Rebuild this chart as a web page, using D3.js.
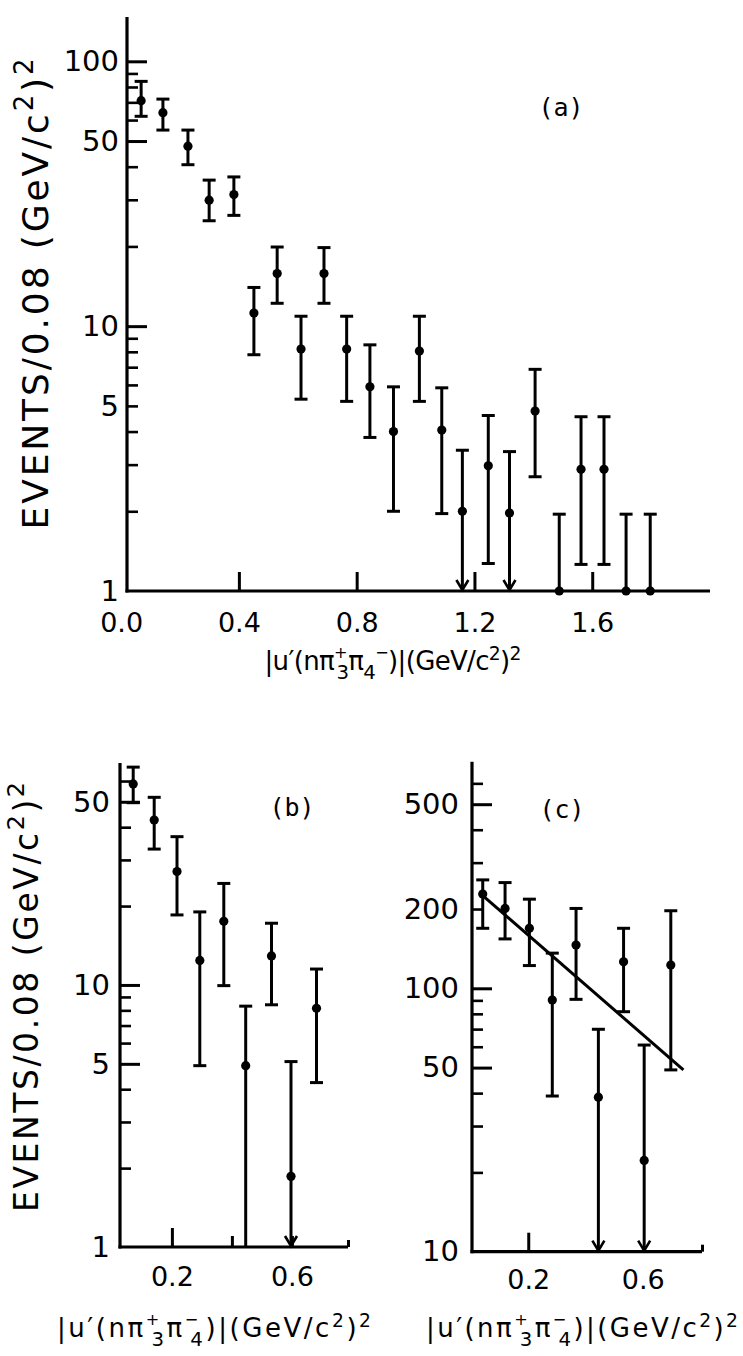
<!DOCTYPE html>
<html>
<head>
<meta charset="utf-8">
<script src="https://cdn.jsdelivr.net/npm/d3@7"></script>
<style>
  body { margin: 0; background: #fff; }
  svg text { fill: #000; }
</style>
</head>
<body>
<div id="chart"></div>
<script>
// ---- panel (a) : events per 0.08 (GeV/c^2)^2 ----
var aX  = [0.068, 0.142, 0.227, 0.299, 0.383, 0.451, 0.530, 0.611, 0.689, 0.766, 0.845, 0.925,
           1.013, 1.089, 1.159, 1.247, 1.319, 1.406, 1.488, 1.562, 1.640, 1.715, 1.797];
var aY  = [71, 64, 47.8, 29.9, 31.4, 11.2, 15.8, 8.2, 15.8, 8.2, 5.9, 4.0,
           8.05, 4.05, 2.0, 2.97, 1.97, 4.78, 1, 2.88, 2.88, 1, 1];
var aHi = [84, 72, 55, 35.6, 36.6, 14, 19.9, 10.9, 19.8, 10.9, 8.5, 5.9,
           10.9, 5.85, 3.4, 4.6, 3.36, 6.87, 1.95, 4.55, 4.55, 1.95, 1.95];
var aLo = [62, 55, 40.7, 25, 26.2, 7.8, 12.2, 5.3, 12.2, 5.2, 3.8, 2.0,
           5.2, 1.96, 0, 1.27, 0, 2.7, 0, 1.26, 1.26, 0, 0];
var aArrow = [0,0,0,0,0,0,0,0,0,0,0,0,0,0,1,0,1,0,0,0,0,0,0];

// ---- panel (b) ----
var bX  = [0.071, 0.141, 0.217, 0.293, 0.373, 0.446, 0.532, 0.597, 0.682];
var bY  = [58.5, 42.6, 27.1, 12.4, 17.5, 4.92, 12.9, 1.86, 8.15];
var bHi = [67.8, 52, 36.8, 19, 24.4, 8.3, 17.2, 5.1, 11.5];
var bLo = [49.6, 33, 18.5, 4.92, 9.94, 0, 8.4, 0, 4.24];
var bArrow = [0,0,0,0,0,0,0,1,0];

// ---- panel (c) ----
var cX  = [0.041, 0.119, 0.204, 0.284, 0.367, 0.445, 0.533, 0.605, 0.698];
var cY  = [228, 201, 169, 90.3, 146, 38.6, 126, 22.2, 122.5];
var cHi = [258, 252, 218, 136, 201, 69.9, 169, 60.9, 197];
var cLo = [169, 154, 122, 39, 90.8, 0, 81.5, 0, 49];
var cArrow = [0,0,0,0,0,1,0,1,0];
var cFitX = [0.031, 0.742];
var cFitY = [230, 49];

// tick values
var aYLabels = [1, 5, 10, 50, 100];
var aYMajor  = [10, 50, 100];
var aYMinor  = [2, 3, 4, 5, 6, 7, 8, 9, 20, 30, 40, 60, 70, 80, 90];
var aXLabels = [0, 0.4, 0.8, 1.2, 1.6];
var aXMajor  = [0.4, 0.8, 1.2, 1.6];

var bYLabels = [1, 5, 10, 50];
var bYMajor  = [5, 10, 50];
var bYMinor  = [2, 3, 4, 6, 7, 8, 9, 20, 30, 40, 60];
var bXLabels = [0.2, 0.6];
var bXMajor  = [0.2];
var bXMinor  = [0.4, 0.6];

var cYLabels = [10, 50, 100, 200, 500];
var cYMajor  = [50, 100, 500];
var cYMinor  = [20, 30, 40, 60, 70, 80, 90, 200, 300, 400, 600];
var cXLabels = [0.2, 0.6];
var cXMajor  = [0.2];

var W = 743, H = 1356;
var svg = d3.select("#chart").append("svg")
    .attr("width", W).attr("height", H)
    .style("background", "#fff");

function tickGroup(g, axis, tx, ty, width)
{
    var t = g.append("g")
        .attr("transform", "translate(" + tx + "," + ty + ")")
        .attr("color", "#000")
        .call(axis);
    t.select(".domain").remove();
    t.selectAll("line").attr("stroke-width", width || 3);
    return t;
}

function labelGroup(g, axis, tx, ty, size)
{
    var t = g.append("g")
        .attr("transform", "translate(" + tx + "," + ty + ")")
        .call(axis);
    t.select(".domain").remove();
    t.selectAll("line").remove();
    t.attr("font-family", "'DejaVu Sans', sans-serif")
     .attr("font-size", size);
    return t;
}

function drawPanel(p)
{
    var g = svg.append("g");
    var x0 = p.x.range()[0], x1 = p.x.range()[1];
    var yb = p.y.range()[0], yt = p.y.range()[1];

    // axis lines
    g.append("line")
        .attr("x1", x0).attr("x2", x0)
        .attr("y1", yb + 1.5).attr("y2", yt)
        .attr("stroke", "#000").attr("stroke-width", 3.2);
    g.append("line")
        .attr("x1", x0 - 1.5).attr("x2", x1)
        .attr("y1", yb).attr("y2", yb)
        .attr("stroke", "#000").attr("stroke-width", 3.2);

    // y ticks (pointing inward, to the right)
    tickGroup(g, d3.axisRight(p.y).tickValues(p.yMajor).tickSize(20).tickFormat(""), x0, 0);
    tickGroup(g, d3.axisRight(p.y).tickValues(p.yMinor).tickSize(11).tickFormat(""), x0, 0, 2.6);

    // x ticks (pointing up)
    tickGroup(g, d3.axisTop(p.x).tickValues(p.xMajor).tickSize(19).tickFormat(""), 0, yb);
    if (p.xMinor)
        tickGroup(g, d3.axisTop(p.x).tickValues(p.xMinor).tickSize(11).tickFormat(""), 0, yb);
    if (p.xEnd)
        tickGroup(g, d3.axisTop(p.x).tickValues([p.x.domain()[1]]).tickSize(7).tickFormat(""), 0, yb);

    // tick labels
    labelGroup(g, d3.axisLeft(p.y).tickValues(p.yLabels).tickSize(0)
        .tickPadding(p.yPad).tickFormat(d3.format("d")), x0, 0, p.yFont);
    labelGroup(g, d3.axisBottom(p.x).tickValues(p.xLabels).tickSize(0)
        .tickPadding(p.xPad).tickFormat(d3.format(".1f")), 0, yb, p.xFont);

    // error bars and points
    var pts = p.xs.map(function(d, i) {
        return { x: d, y: p.ys[i], hi: p.hi[i], lo: p.lo[i], arrow: p.arrow[i] };
    });

    var bars = g.selectAll("g.pt").data(pts).enter().append("g").attr("class", "pt");

    bars.append("line")
        .attr("x1", function(d) { return p.x(d.x); })
        .attr("x2", function(d) { return p.x(d.x); })
        .attr("y1", function(d) { return p.y(d.hi); })
        .attr("y2", function(d) { return d.lo > 0 ? p.y(d.lo) : yb; })
        .attr("stroke", "#000").attr("stroke-width", 3);

    bars.append("line")
        .attr("x1", function(d) { return p.x(d.x) - 6.5; })
        .attr("x2", function(d) { return p.x(d.x) + 6.5; })
        .attr("y1", function(d) { return p.y(d.hi); })
        .attr("y2", function(d) { return p.y(d.hi); })
        .attr("stroke", "#000").attr("stroke-width", 3);

    bars.filter(function(d) { return d.lo > 0; })
        .append("line")
        .attr("x1", function(d) { return p.x(d.x) - 6.5; })
        .attr("x2", function(d) { return p.x(d.x) + 6.5; })
        .attr("y1", function(d) { return p.y(d.lo); })
        .attr("y2", function(d) { return p.y(d.lo); })
        .attr("stroke", "#000").attr("stroke-width", 3);

    bars.filter(function(d) { return d.arrow; })
        .append("path")
        .attr("d", function(d) {
            var cx = p.x(d.x);
            return "M" + (cx - 6) + "," + (yb - 11) + "L" + cx + "," + (yb - 1) + "L" + (cx + 6) + "," + (yb - 11);
        })
        .attr("fill", "none").attr("stroke", "#000").attr("stroke-width", 2.6);

    bars.append("circle")
        .attr("cx", function(d) { return p.x(d.x); })
        .attr("cy", function(d) { return p.y(d.y); })
        .attr("r", 4.6)
        .attr("fill", "#000");

    // panel tag
    g.append("text")
        .attr("x", p.tag[1]).attr("y", p.tag[2])
        .attr("text-anchor", "middle")
        .attr("font-family", "'DejaVu Sans Mono', 'Liberation Mono', monospace")
        .attr("font-size", 25)
        .text(p.tag[0]);

    return g;
}

function yTitle(bx, cy, size, len)
{
    var t = svg.append("text")
        .attr("transform", "translate(" + bx + "," + cy + ") rotate(-90)")
        .attr("text-anchor", "middle")
        .attr("font-family", "'DejaVu Sans', sans-serif")
        .attr("font-size", size)
        .attr("textLength", len)
        .attr("lengthAdjust", "spacing");
    var s = size * 0.72, up = size * 0.42;
    t.append("tspan").text("EVENTS/0.08 (GeV/c");
    t.append("tspan").attr("font-size", s).attr("dy", -up).text("2");
    t.append("tspan").attr("dy", up).text(")");
    t.append("tspan").attr("font-size", s).attr("dy", -up).text("2");
}

function xTitle(cx, by, size, len, stacked)
{
    var t = svg.append("text")
        .attr("x", cx).attr("y", by)
        .attr("text-anchor", "middle")
        .attr("font-family", "'DejaVu Sans', sans-serif")
        .attr("font-size", size)
        .attr("textLength", len)
        .attr("lengthAdjust", "spacing");
    var s = size * 0.62, up = size * 0.45, dn = size * 0.36, back = size * 0.4;
    t.append("tspan").text("|u\u2032(n\u03c0");
    t.append("tspan").attr("font-size", s).attr("dy", -up).text("+");
    t.append("tspan").attr("font-size", size * 0.76).attr("dx", -back).attr("dy", up + dn).text("3");
    t.append("tspan").attr("dy", -dn).text("\u03c0");
    if (stacked) {
        t.append("tspan").attr("font-size", s).attr("dy", -up).text("\u2212");
        t.append("tspan").attr("font-size", size * 0.76).attr("dx", -back).attr("dy", up + dn).text("4");
        t.append("tspan").attr("dy", -dn).text(")|(GeV/c");
    } else {
        t.append("tspan").attr("font-size", size * 0.76).attr("dy", dn).text("4");
        t.append("tspan").attr("font-size", s).attr("dy", -dn - up).text("\u2212");
        t.append("tspan").attr("dy", up).text(")|(GeV/c");
    }
    t.append("tspan").attr("font-size", size * 0.72).attr("dy", -size * 0.4).text("2");
    t.append("tspan").attr("dy", size * 0.4).text(")");
    t.append("tspan").attr("font-size", size * 0.72).attr("dy", -size * 0.4).text("2");
}

// panel (a)
drawPanel({
    x: d3.scaleLinear().domain([0.02, 2.0]).range([127, 710]),
    y: d3.scaleLog().domain([1, 147]).range([591, 17]),
    xs: aX, ys: aY, hi: aHi, lo: aLo, arrow: aArrow,
    yLabels: aYLabels, yMajor: aYMajor, yMinor: aYMinor,
    xLabels: aXLabels, xMajor: aXMajor,
    yPad: 8, yFont: 29, xPad: 22, xFont: 27,
    tag: ["(a)", 561, 116]
});

// panel (b)
drawPanel({
    x: d3.scaleLinear().domain([0.027, 0.787]).range([120, 348]),
    y: d3.scaleLog().domain([1, 70.3]).range([1247, 763]),
    xs: bX, ys: bY, hi: bHi, lo: bLo, arrow: bArrow,
    yLabels: bYLabels, yMajor: bYMajor, yMinor: bYMinor,
    xLabels: bXLabels, xMajor: bXMajor, xMinor: bXMinor, xEnd: true,
    yPad: 10, yFont: 29, xPad: 20, xFont: 27,
    tag: ["(b)", 292, 816]
});

// panel (c)
var cxs = d3.scaleLinear().domain([0.0035, 0.807]).range([472, 702]);
var cys = d3.scaleLog().domain([10, 725]).range([1251.7, 761.7]);
var pc = drawPanel({
    x: cxs,
    y: cys,
    xs: cX, ys: cY, hi: cHi, lo: cLo, arrow: cArrow,
    yLabels: cYLabels, yMajor: cYMajor, yMinor: cYMinor,
    xLabels: cXLabels, xMajor: cXMajor, xEnd: true,
    yPad: 13, yFont: 29, xPad: 18, xFont: 27,
    tag: ["(c)", 562, 818]
});

// exponential fit line in (c)
pc.append("path")
    .datum(cFitX.map(function(d, i) { return { x: d, y: cFitY[i] }; }))
    .attr("d", d3.line().x(function(d) { return cxs(d.x); }).y(function(d) { return cys(d.y); }))
    .attr("fill", "none").attr("stroke", "#000").attr("stroke-width", 3);

// axis titles
yTitle(48, 294, 36, 471);
yTitle(38, 997, 33, 430);
xTitle(393, 670, 26, 257, false);
xTitle(214, 1337, 26, 314, true);
xTitle(582, 1337, 26, 312, true);
</script>
</body>
</html>
